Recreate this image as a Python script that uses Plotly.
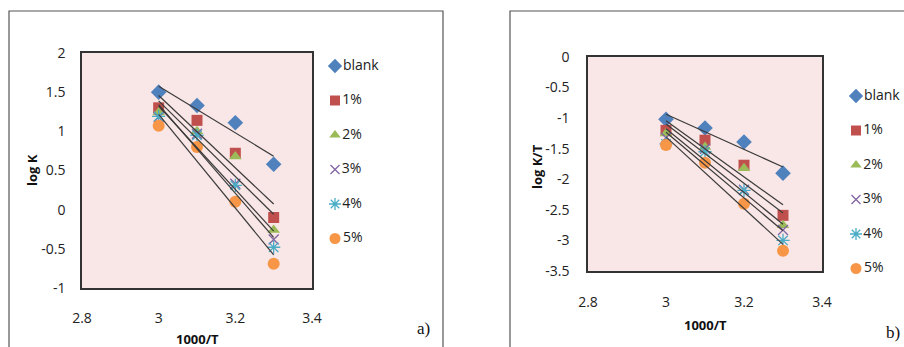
import numpy as np
import plotly.graph_objects as go

# Inverse temperature (1000/T) for each run
inv_T = [3.0, 3.1, 3.2, 3.3]

series_names = ["blank", "1%", "2%", "3%", "4%", "5%"]

# Panel a) log K
log_k = {
    "blank": [1.50, 1.33, 1.11, 0.58],
    "1%": [1.30, 1.14, 0.72, -0.10],
    "2%": [1.24, 1.00, 0.68, -0.26],
    "3%": [1.18, 0.97, 0.33, -0.38],
    "4%": [1.19, 0.95, 0.31, -0.48],
    "5%": [1.07, 0.80, 0.10, -0.69],
}

# Panel b) log K/T
log_k_t = {
    "blank": [-1.02, -1.16, -1.39, -1.90],
    "1%": [-1.20, -1.36, -1.77, -2.59],
    "2%": [-1.25, -1.47, -1.82, -2.75],
    "3%": [-1.32, -1.50, -2.17, -2.83],
    "4%": [-1.42, -1.55, -2.18, -3.00],
    "5%": [-1.44, -1.73, -2.40, -3.17],
}

x_ticks = [2.8, 3.0, 3.2, 3.4]
x_tick_text = ["2.8", "3", "3.2", "3.4"]
ya_ticks = [-1, -0.5, 0, 0.5, 1, 1.5, 2]
ya_tick_text = ["-1", "-0.5", "0", "0.5", "1", "1.5", "2"]
yb_ticks = [-3.5, -3, -2.5, -2, -1.5, -1, -0.5, 0]
yb_tick_text = ["-3.5", "-3", "-2.5", "-2", "-1.5", "-1", "-0.5", "0"]

styles = {
    "blank": dict(symbol="diamond", color="#4F81BD", size=12),
    "1%": dict(symbol="square", color="#C0504D", size=11),
    "2%": dict(symbol="triangle-up", color="#9BBB59", size=11),
    "3%": dict(symbol="x-thin-open", color="#8064A2", size=10, line=dict(width=1.3, color="#8064A2")),
    "4%": dict(symbol="asterisk-open", color="#4BACC6", size=11, line=dict(width=1.3, color="#4BACC6")),
    "5%": dict(symbol="circle", color="#F79646", size=12),
}

W, H = 904, 347
def px(x):
    return x / W
def py(y):
    return 1 - y / H

fig = go.Figure()

panels = [
    (log_k, "x", "y"),
    (log_k_t, "x2", "y2"),
]

x_arr = np.array(inv_T)
for data, xa, ya in panels:
    for name in series_names:
        fig.add_trace(go.Scatter(
            x=inv_T, y=data[name], mode="markers", name=name,
            marker=dict(styles[name]), xaxis=xa, yaxis=ya,
            showlegend=False, cliponaxis=False,
        ))
    # linear least-squares trendlines
    for name in series_names:
        slope, icpt = np.polyfit(x_arr, np.array(data[name]), 1)
        xs = [inv_T[0], inv_T[-1]]
        fig.add_trace(go.Scatter(
            x=xs, y=[slope * v + icpt for v in xs], mode="lines",
            line=dict(color="#3a3a3a", width=1.2), showlegend=False,
            xaxis=xa, yaxis=ya, hoverinfo="skip",
        ))

# Compact legends (symbol immediately followed by its label), drawn on a
# pixel-space overlay axis pair
leg_font = dict(family="Open Sans, sans-serif", size=14, color="#222")
legend_blocks = [(335, 66), (856, 96)]
leg_step = 34.5
for lx, ly in legend_blocks:
    for i, name in enumerate(series_names):
        st = dict(styles[name])
        st["size"] = max(st["size"] - 1, 9)
        fig.add_trace(go.Scatter(
            x=[lx], y=[ly + i * leg_step], mode="markers+text",
            text=[name], textposition="middle right", textfont=leg_font,
            marker=st, xaxis="x3", yaxis="y3", showlegend=False,
            hoverinfo="skip", cliponaxis=False,
        ))

tick_font = dict(family="Open Sans, Noto Sans, sans-serif", size=14, color="#222")
axis_common = dict(showgrid=False, zeroline=False, showline=True, mirror=True,
                   linecolor="#333", linewidth=1.5, ticks="", tickfont=tick_font,
                   automargin=False)
hidden = dict(visible=False, showgrid=False, zeroline=False, fixedrange=True,
              automargin=False)

fig.update_layout(
    width=W, height=H,
    margin=dict(l=0, r=0, t=0, b=0, autoexpand=False),
    paper_bgcolor="white",
    plot_bgcolor="rgba(0,0,0,0)",
    showlegend=False,
    xaxis=dict(domain=[px(82), px(312)], range=[2.8, 3.4], tickvals=x_ticks,
               ticktext=x_tick_text, anchor="y", ticklabelstandoff=16, **axis_common),
    yaxis=dict(domain=[py(288), py(53)], range=[-1, 2], tickvals=ya_ticks,
               ticktext=ya_tick_text, anchor="x", ticklabelstandoff=12, **axis_common),
    xaxis2=dict(domain=[px(588), px(822)], range=[2.8, 3.4], tickvals=x_ticks,
                ticktext=x_tick_text, anchor="y2", ticklabelstandoff=17, **axis_common),
    yaxis2=dict(domain=[py(271), py(57)], range=[-3.5, 0], tickvals=yb_ticks,
                ticktext=yb_tick_text, anchor="x2", ticklabelstandoff=14, **axis_common),
    xaxis3=dict(domain=[0, 1], range=[0, W], anchor="y3", **hidden),
    yaxis3=dict(domain=[0, 1], range=[H, 0], anchor="x3", **hidden),
)

# pink plot-area fills
for xr, yr in [("x domain", "y domain"), ("x2 domain", "y2 domain")]:
    fig.add_shape(type="rect", xref=xr, yref=yr, x0=0, x1=1, y0=0, y1=1,
                  fillcolor="#f9e6e6", line=dict(width=0), layer="below")

# outer chart frames
fig.add_shape(type="rect", xref="paper", yref="paper",
              x0=px(9), x1=px(443), y0=py(360), y1=py(11),
              line=dict(color="#555", width=1.2))
fig.add_shape(type="rect", xref="paper", yref="paper",
              x0=px(510), x1=px(920), y0=py(360), y1=py(11),
              line=dict(color="#555", width=1.2))

title_font = dict(family="Open Sans, sans-serif", size=13, color="#111")
ann = [
    dict(x=px(197), y=py(339), text="<b>1000/T</b>", font=title_font),
    dict(x=px(705), y=py(325), text="<b>1000/T</b>", font=title_font),
    dict(x=px(32), y=py(170), text="<b>log K</b>", font=title_font, textangle=-90),
    dict(x=px(537), y=py(167), text="<b>log K/T</b>", font=title_font, textangle=-90),
    dict(x=px(423), y=py(328), text="a)", font=dict(family="Liberation Serif, serif", size=17, color="#111")),
    dict(x=px(893), y=py(332), text="b)", font=dict(family="Liberation Serif, serif", size=17, color="#111")),
]
for a in ann:
    fig.add_annotation(xref="paper", yref="paper", showarrow=False,
                       xanchor="center", yanchor="middle", **a)

fig.write_html("out.html")
